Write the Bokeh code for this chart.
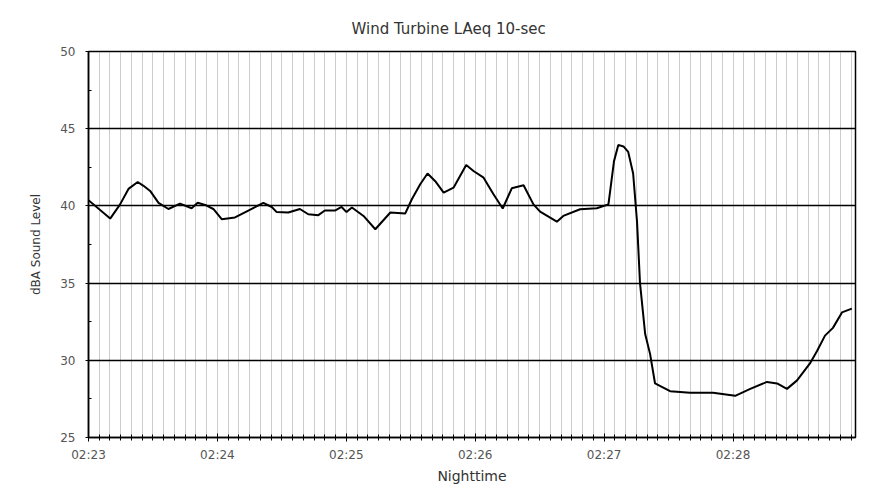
from bokeh.plotting import figure
from bokeh.models import FixedTicker, Range1d, ColumnDataSource
from bokeh.embed import file_html
from bokeh.resources import INLINE

# seconds after 02:23:00
seconds = [0, 10.1, 14.7, 18.6, 22.9, 25.6, 28.7, 32.6, 37.2, 42.6, 48, 50.8, 54.3,
           58.1, 62, 68.2, 74.4, 81.4, 85.3, 87.6, 93, 98.4, 102.3, 107, 110,
           114.7, 117.8, 120.1, 122.6, 128, 133.5, 140.5, 147.4, 150.5, 154.4,
           157.8, 161.4, 165.3, 169.9, 175.8, 179.2, 183.9, 188.5, 192.8, 197,
           202.5, 207.1, 210.2, 218, 221, 228.8, 236.6, 242, 244.6, 246.6, 249,
           251.2, 253.5, 255.3, 256.7, 259.1, 261.4, 263.7, 270.7, 280, 290.7,
           301, 308, 315.8, 320.5, 325.1, 329.8, 335.8, 339.1, 342.8, 346.5,
           350.7, 355.3]
dba = [40.37, 39.18, 40.1, 41.1, 41.55, 41.3, 40.97, 40.2, 39.8, 40.15, 39.85, 40.2,
       40.06, 39.8, 39.14, 39.25, 39.7, 40.2, 39.93, 39.6, 39.57, 39.8, 39.46,
       39.4, 39.7, 39.7, 39.93, 39.6, 39.9, 39.35, 38.49, 39.57, 39.5, 40.43,
       41.4, 42.1, 41.6, 40.86, 41.18, 42.65, 42.26, 41.83, 40.75, 39.83, 41.14,
       41.34, 40.1, 39.63, 38.98, 39.35, 39.78, 39.85, 40.1, 42.9, 43.95, 43.85,
       43.5, 42.1, 39.0, 35.0, 31.7, 30.4, 28.5, 28.0, 27.9, 27.9,
       27.7, 28.15, 28.6, 28.5, 28.15, 28.7, 29.8, 30.6, 31.6, 32.1,
       33.1, 33.35]
tick_seconds = [0, 60, 120, 180, 240, 300]
tick_labels = ["02:23", "02:24", "02:25", "02:26", "02:27", "02:28"]
y_ticks = [25, 30, 35, 40, 45, 50]

FONT = "DejaVu Sans"

p = figure(width=870, height=489, output_backend="svg", toolbar_location=None,
           x_range=Range1d(0, 357), y_range=Range1d(25, 50),
           min_border_left=88, min_border_right=15, min_border_top=51, min_border_bottom=52)

p.title.text = "Wind Turbine LAeq 10-sec"
p.title.align = "left"
p.title.offset = 263
p.title.text_font = FONT
p.title.text_font_size = "15px"
p.title.text_font_style = "normal"
p.title.text_color = "#333333"
p.title.standoff = 27

minor_x = [s for s in range(0, 360, 5) if s % 60 != 0]
p.xaxis.ticker = FixedTicker(ticks=tick_seconds, minor_ticks=minor_x)
p.xaxis.major_label_overrides = {t: l for t, l in zip(tick_seconds, tick_labels)}
p.yaxis.ticker = FixedTicker(ticks=y_ticks, minor_ticks=[27.5, 32.5, 37.5, 42.5, 47.5])

for ax in (p.xaxis, p.yaxis):
    ax.axis_line_color = "black"
    ax.axis_line_width = 1.5
    ax.major_tick_line_color = "black"
    ax.minor_tick_line_color = "black"
    ax.major_label_text_font = FONT
    ax.major_label_text_font_size = "12px"
    ax.major_label_text_color = "#555555"
    ax.axis_label_text_font = FONT
    ax.axis_label_text_font_style = "normal"
    ax.axis_label_text_color = "#333333"

p.xaxis.major_tick_in = 4
p.xaxis.major_tick_out = 4
p.xaxis.minor_tick_in = 3
p.xaxis.minor_tick_out = 3
p.xaxis.major_label_standoff = 6
p.yaxis.major_tick_in = 0
p.yaxis.major_tick_out = 3
p.yaxis.minor_tick_in = 3
p.yaxis.minor_tick_out = 0
p.yaxis.major_label_standoff = 10

p.xaxis.axis_label = "Nighttime"
p.xaxis.axis_label_text_font_size = "14px"
p.xaxis.axis_label_standoff = 3
p.yaxis.axis_label = "dBA Sound Level"
p.yaxis.axis_label_text_font_size = "12px"
p.yaxis.axis_label_standoff = 14

p.xgrid.grid_line_color = "#999999"
p.xgrid.grid_line_dash = "1 1"
p.xgrid.grid_line_width = 1
p.xgrid.minor_grid_line_color = "#999999"
p.xgrid.minor_grid_line_dash = "1 1"
p.xgrid.minor_grid_line_width = 1

p.ygrid.grid_line_color = "black"
p.ygrid.grid_line_width = 1.5

p.outline_line_color = "black"
p.outline_line_width = 1.5

src = ColumnDataSource(dict(t=seconds, v=dba))
p.line("t", "v", source=src, line_color="black", line_width=2)

open("out.html", "w").write(file_html(p, INLINE))
